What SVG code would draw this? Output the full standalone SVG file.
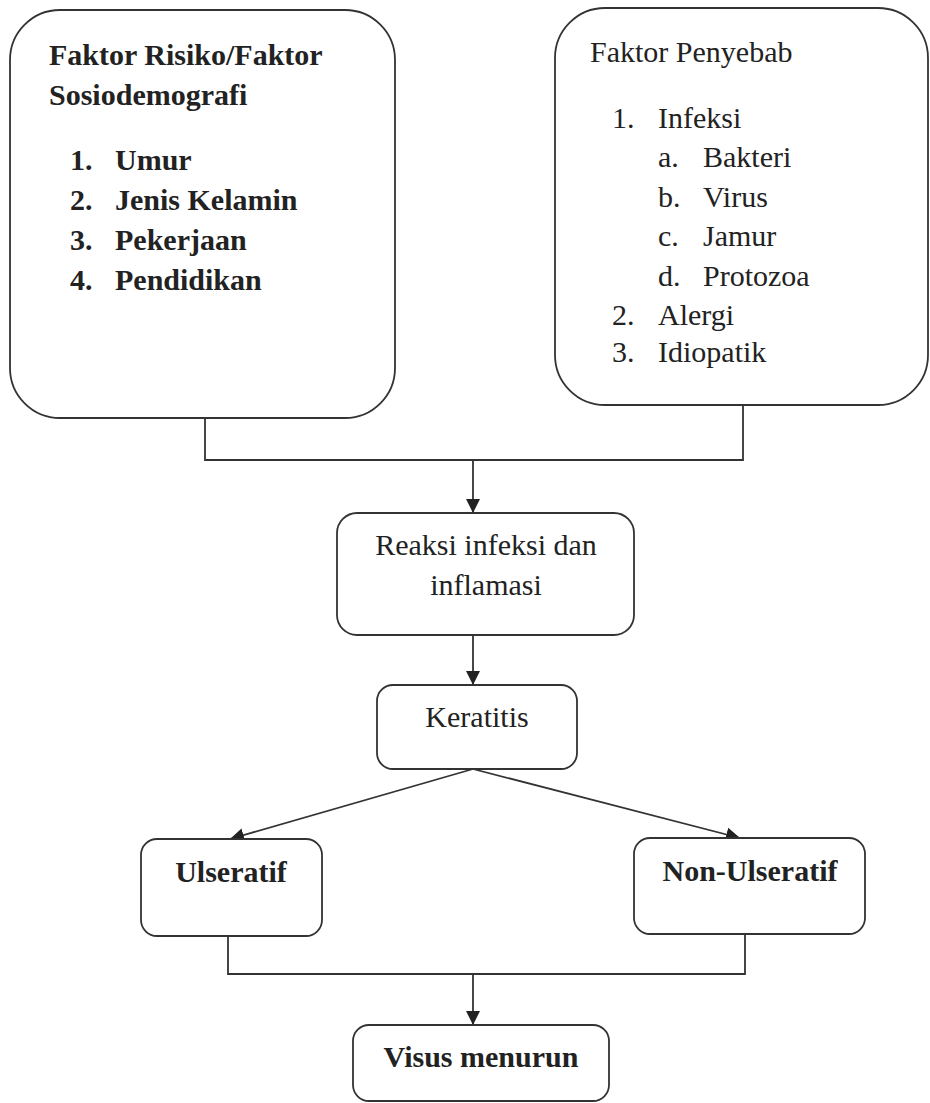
<svg xmlns="http://www.w3.org/2000/svg" width="930" height="1103" viewBox="0 0 930 1103">
<style>
.box{fill:#fff;stroke:#333;stroke-width:1.8}
.t{font-family:"Liberation Serif","Times New Roman",serif;font-size:30px;fill:#222}
.b{font-weight:bold}
.c{text-anchor:middle}
.ln{fill:none;stroke:#333;stroke-width:1.8}
</style>
<defs>
<marker id="ah" viewBox="0 0 14 14" refX="14" refY="7" markerWidth="14" markerHeight="14" markerUnits="userSpaceOnUse" orient="auto">
<path d="M0,0 L14,7 L0,14 Z" fill="#222"/>
</marker>
</defs>
<rect width="930" height="1103" fill="#fff"/>
<g id="connectors">
<polyline class="ln" points="205,418 205,460 743,460 743,405"/>
<line class="ln" x1="473" y1="460" x2="473" y2="513" marker-end="url(#ah)"/>
<line class="ln" x1="473" y1="635" x2="473" y2="685" marker-end="url(#ah)"/>
<line class="ln" x1="473" y1="769" x2="230" y2="839" marker-end="url(#ah)"/>
<line class="ln" x1="473" y1="769" x2="740" y2="838" marker-end="url(#ah)"/>
<polyline class="ln" points="228,936 228,974 745,974 745,934"/>
<line class="ln" x1="473" y1="974" x2="473" y2="1025" marker-end="url(#ah)"/>
</g>
<g id="faktor-risiko">
<rect class="box" x="10" y="10" width="385" height="408" rx="50" ry="50"/>
<text class="t b" x="49" y="65">Faktor Risiko/Faktor</text>
<text class="t b" x="49" y="105">Sosiodemografi</text>
<text class="t b" x="70" y="170">1.</text><text class="t b" x="115" y="170">Umur</text>
<text class="t b" x="70" y="210">2.</text><text class="t b" x="115" y="210">Jenis Kelamin</text>
<text class="t b" x="70" y="250">3.</text><text class="t b" x="115" y="250">Pekerjaan</text>
<text class="t b" x="70" y="290">4.</text><text class="t b" x="115" y="290">Pendidikan</text>
</g>
<g id="faktor-penyebab">
<rect class="box" x="555" y="8" width="373" height="397" rx="50" ry="50"/>
<text class="t" x="590" y="62">Faktor Penyebab</text>
<text class="t" x="612" y="128">1.</text><text class="t" x="658" y="128">Infeksi</text>
<text class="t" x="658" y="167">a.</text><text class="t" x="703" y="167">Bakteri</text>
<text class="t" x="658" y="207">b.</text><text class="t" x="703" y="207">Virus</text>
<text class="t" x="658" y="246">c.</text><text class="t" x="703" y="246">Jamur</text>
<text class="t" x="658" y="286">d.</text><text class="t" x="703" y="286">Protozoa</text>
<text class="t" x="612" y="325">2.</text><text class="t" x="658" y="325">Alergi</text>
<text class="t" x="612" y="362">3.</text><text class="t" x="658" y="362">Idiopatik</text>
</g>
<g id="reaksi">
<rect class="box" x="337" y="513" width="297" height="122" rx="20" ry="20"/>
<text class="t c" x="486" y="555">Reaksi infeksi dan</text>
<text class="t c" x="486" y="595">inflamasi</text>
</g>
<g id="keratitis">
<rect class="box" x="377" y="685" width="200" height="84" rx="16" ry="16"/>
<text class="t c" x="477" y="727">Keratitis</text>
</g>
<g id="ulseratif">
<rect class="box" x="141" y="839" width="181" height="97" rx="16" ry="16"/>
<text class="t b c" x="231" y="882">Ulseratif</text>
</g>
<g id="non-ulseratif">
<rect class="box" x="634" y="838" width="231" height="96" rx="16" ry="16"/>
<text class="t b c" x="750" y="881">Non-Ulseratif</text>
</g>
<g id="visus">
<rect class="box" x="353" y="1025" width="256" height="76" rx="16" ry="16"/>
<text class="t b c" x="481" y="1067">Visus menurun</text>
</g>
</svg>
